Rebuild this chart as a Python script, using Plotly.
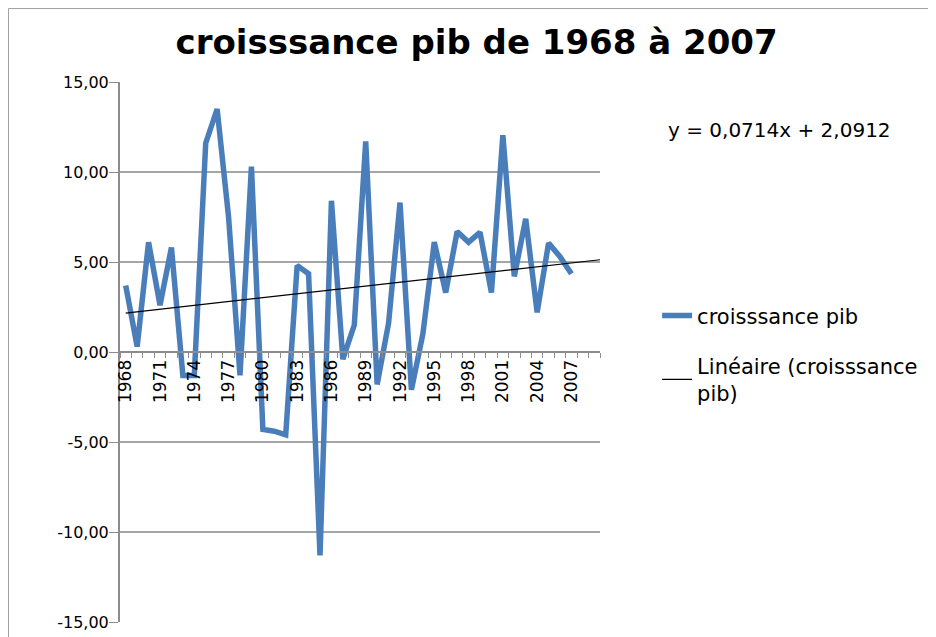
import plotly.graph_objects as go

years = list(range(1968, 2008))
croissance_pib = [3.7, 0.3, 6.1, 2.6, 5.8, -1.3, -1.3, 11.6, 13.5, 7.5,
                  -1.3, 10.3, -4.3, -4.4, -4.6, 4.8, 4.35, -11.3, 8.4, -0.4,
                  1.5, 11.7, -1.8, 1.6, 8.3, -2.1, 1.0, 6.1, 3.3, 6.7,
                  6.1, 6.65, 3.3, 12.05, 4.2, 7.4, 2.2, 6.05, 5.3, 4.35]
tick_years = list(range(1968, 2008, 3))
y_ticks = [-15, -10, -5, 0, 5, 10, 15]
y_ticktext = [f"{v:.2f}".replace(".", ",") for v in y_ticks]

slope = 0.0714
intercept = 2.0912
first_year = 1967
trend_years = [1968, 2009.5]
trend_vals = [slope * (yr - first_year) + intercept for yr in trend_years]

FONT = "DejaVu Sans"
GRID = "#a6a6a6"
AXIS = "#8c8c8c"

fig = go.Figure()
fig.add_trace(go.Scatter(
    x=years, y=croissance_pib, mode="lines", name="croisssance pib",
    line=dict(color="#4a7ebb", width=5.5), legendgroup="a",
))
fig.add_trace(go.Scatter(
    x=trend_years, y=trend_vals, mode="lines",
    name="Linéaire (croisssance<br>pib)",
    line=dict(color="black", width=1.2), legendgroup="b",
))

fig.update_layout(
    width=928, height=629,
    margin=dict(l=112, r=336, t=74, b=15),
    paper_bgcolor="white", plot_bgcolor="white",
    font=dict(family=FONT, color="black"),
    title=dict(text="<b>croisssance pib de 1968 à 2007</b>",
               x=0.505, xanchor="center", y=0.946, yanchor="middle",
               font=dict(size=34, family=FONT)),
    showlegend=True,
    legend=dict(x=1.119, xanchor="left", y=0.605, yanchor="top",
                font=dict(size=21, family=FONT),
                tracegroupgap=20, bgcolor="rgba(0,0,0,0)"),
    xaxis=dict(range=[1967.5, 2009.5], tickvals=tick_years,
               ticktext=[str(t) for t in tick_years],
               tickangle=-90, tickfont=dict(size=17, family=FONT),
               showgrid=False, zeroline=False, automargin=False,
               showline=True, linecolor=AXIS, linewidth=2,
               ticks="", anchor="free", position=0.5,
               minor=dict(ticks="outside", tick0=1967.5, dtick=1,
                          ticklen=5, tickcolor=AXIS, showgrid=False)),
    yaxis=dict(range=[-15, 15], tickvals=y_ticks, ticktext=y_ticktext,
               showgrid=True, gridcolor=GRID, gridwidth=1.5,
               zeroline=False, showline=True, linecolor=AXIS, linewidth=2,
               ticks="outside", ticklen=9, tickcolor=AXIS, automargin=False,
               ticklabelstandoff=-3,
               tickfont=dict(size=16, family=FONT)),
)

fig.add_annotation(text="y = 0,0714x + 2,0912", xref="paper", yref="paper",
                   x=1.373, y=0.911, xanchor="center", yanchor="middle",
                   showarrow=False, font=dict(size=20, family=FONT))

fig.add_shape(type="rect", xref="paper", yref="paper",
              x0=-0.2323, x1=1.8, y0=-0.1, y1=1.136,
              line=dict(color="#a0a0a0", width=1), layer="below")

fig.write_html("out.html")
